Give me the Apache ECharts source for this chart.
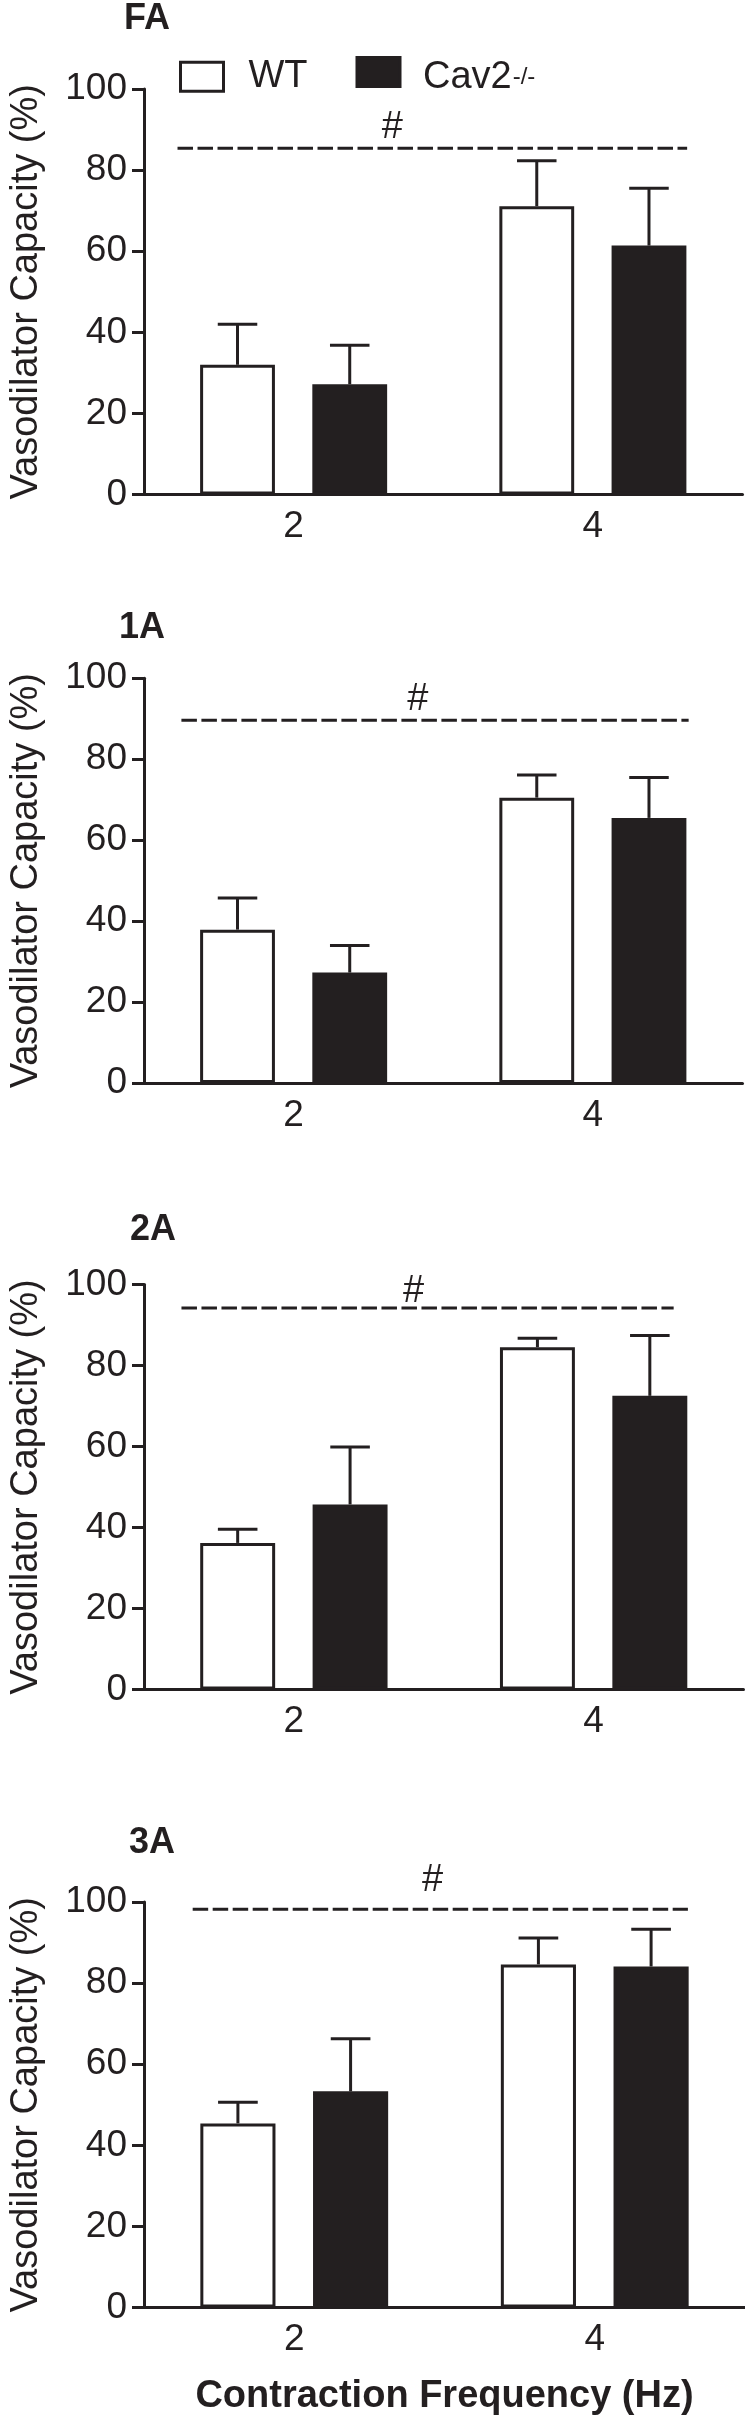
<!DOCTYPE html>
<html>
<head>
<meta charset="utf-8">
<script src="https://cdn.jsdelivr.net/npm/echarts@6/dist/echarts.min.js"></script>
<style>
html,body{margin:0;padding:0;background:#fff;}
#chart{width:745px;height:2417px;}
</style>
</head>
<body>
<div id="chart"></div>
<script>
// ---- data ----
const categories = ['2', '4'];
const panelNames = ['FA', '1A', '2A', '3A'];
const seriesNames = ['WT', 'Cav2-/-'];
const yTicks = [0, 20, 40, 60, 80, 100];

const wtMean  = [[32.0, 71.1], [37.9, 70.5], [36.2, 84.5], [45.4, 84.6]];
const wtSem   = [[10.0, 11.2], [7.8, 5.6], [3.4, 2.2], [5.2, 6.5]];
const cavMean = [[27.2, 61.4], [27.3, 65.5], [45.7, 72.5], [53.3, 84.1]];
const cavSem  = [[9.6, 14.1], [6.7, 10.0], [14.2, 14.9], [13.0, 9.2]];

// significance line (# : frequency effect), in category units (-0.5..1.5) and %
const sigLevel = [85.4, 89.6, 94.2, 98.2];
const sigStart = [-0.388, -0.375, -0.375, -0.338];
const sigEnd   = [1.315, 1.320, 1.267, 1.310];
const hashX    = [0.330, 0.415, 0.399, 0.460];
const hashY    = [90.5, 94.7, 98.2, 105.2];

// ---- layout ----
const INK = '#231f20';
const FONT = 'Liberation Sans, Arial, Helvetica, sans-serif';
const grids = [
  {left: 132.5, top: 89.0,   width: 610, height: 405.6},
  {left: 132.5, top: 678.2,  width: 610, height: 404.9},
  {left: 134.5, top: 1284.4, width: 609, height: 405.2},
  {left: 138.0, top: 1902.0, width: 608, height: 405.5}
];
const titlePos = [[124, 1], [119, 610.5], [130, 1212.5], [129, 1825.5]];

const option = {
  backgroundColor: '#fff',
  animation: false,
  title: panelNames.map((n, i) => ({
    text: n, left: titlePos[i][0], top: titlePos[i][1], padding: 0,
    textStyle: {fontFamily: FONT, fontWeight: 'bold', fontSize: 36, color: INK, lineHeight: 36}
  })),
  legend: [
    {
      data: [{name: seriesNames[0], icon: 'rect',
              itemStyle: {color: '#fff', borderColor: INK, borderWidth: 3}}],
      left: 179, top: 57.7, padding: 0, itemWidth: 43, itemHeight: 29,
      selectedMode: false,
      formatter: () => '{a|WT}',
      textStyle: {color: INK, rich: {a: {fontFamily: FONT, fontSize: 38, lineHeight: 38, color: INK, padding: [0, 0, 0, 20]}}}
    },
    {
      data: [{name: seriesNames[1], icon: 'rect',
              itemStyle: {color: INK, borderColor: INK, borderWidth: 3}}],
      left: 355.5, top: 47, padding: 0, itemWidth: 43, itemHeight: 29,
      selectedMode: false,
      formatter: () => '{a|Cav2}{s|-/-}',
      textStyle: {color: INK, rich: {
        a: {fontFamily: FONT, fontSize: 38, lineHeight: 38, color: INK, padding: [12, 0, 0, 18]},
        s: {fontFamily: FONT, fontSize: 24, lineHeight: 7, color: INK, verticalAlign: 'top', padding: [12, 0, 0, 1]}
      }}
    }
  ],
  grid: grids.map(g => Object.assign({containLabel: false}, g)),
  xAxis: [],
  yAxis: [],
  series: []
};

grids.forEach((g, i) => {
  option.xAxis.push({
    type: 'category', gridIndex: i, data: categories,
    axisLine: {onZero: false, lineStyle: {color: INK, width: 3}},
    axisTick: {alignWithLabel: true, length: 11, lineStyle: {color: INK, width: 3}},
    axisLabel: {fontFamily: FONT, fontSize: 37, color: INK, margin: 14},
    name: i === 3 ? 'Contraction Frequency (Hz)' : '',
    nameLocation: 'middle', nameGap: 70,
    nameTextStyle: {fontFamily: FONT, fontWeight: 'bold', fontSize: 38, color: INK}
  });
  option.xAxis.push({
    type: 'value', gridIndex: i, min: -0.5, max: 1.5, show: false
  });
  option.yAxis.push({
    type: 'value', gridIndex: i, min: 0, max: 100, interval: 20,
    axisLine: {show: true, onZero: false, lineStyle: {color: INK, width: 3}},
    axisTick: {show: true, length: 12, lineStyle: {color: INK, width: 3}},
    axisLabel: {fontFamily: FONT, fontSize: 37, color: INK, margin: 17},
    splitLine: {show: false},
    name: 'Vasodilator Capacity (%)', nameLocation: 'middle', nameGap: 98,
    nameTextStyle: {fontFamily: FONT, fontSize: 38, color: INK}
  });

  const catAxis = 2 * i, valAxis = 2 * i + 1;
  option.series.push({
    name: seriesNames[0], type: 'bar', xAxisIndex: catAxis, yAxisIndex: i,
    data: wtMean[i], barWidth: '25%', barGap: '50%',
    itemStyle: {color: '#fff', borderColor: INK, borderWidth: 3}, z: 2
  });
  option.series.push({
    name: seriesNames[1], type: 'bar', xAxisIndex: catAxis, yAxisIndex: i,
    data: cavMean[i], barWidth: '25%', barGap: '50%',
    itemStyle: {color: INK, borderColor: INK, borderWidth: 3}, z: 2
  });
  [[wtMean, wtSem, -1], [cavMean, cavSem, 1]].forEach(([m, s, side]) => {
    option.series.push({
      type: 'custom', xAxisIndex: catAxis, yAxisIndex: i, z: 3,
      data: m[i].map((v, k) => [k, v, v + s[i][k]]),
      renderItem: (params, api) => {
        const base = api.coord([api.value(0), api.value(1)]);
        const top = api.coord([api.value(0), api.value(2)]);
        const bw = api.size([1, 0])[0];
        const x = base[0] + side * 0.1875 * bw;
        const half = 0.066 * bw;
        const st = {stroke: INK, lineWidth: 3};
        return {type: 'group', children: [
          {type: 'line', shape: {x1: x, y1: base[1], x2: x, y2: top[1]}, style: st},
          {type: 'line', shape: {x1: x - half, y1: top[1], x2: x + half, y2: top[1]}, style: st}
        ]};
      }
    });
  });
  option.series.push({
    type: 'line', xAxisIndex: valAxis, yAxisIndex: i, symbol: 'none', z: 4,
    data: [[sigStart[i], sigLevel[i]], [sigEnd[i], sigLevel[i]]],
    lineStyle: {color: INK, width: 3, type: [15.5, 4.5]}
  });
  option.series.push({
    type: 'scatter', xAxisIndex: valAxis, yAxisIndex: i, symbolSize: 2, clip: false, z: 5,
    itemStyle: {color: '#fff', opacity: 1},
    data: [[hashX[i], hashY[i]]],
    label: {show: true, position: [1, 1], align: 'center', verticalAlign: 'middle',
            formatter: '#', fontFamily: FONT, fontSize: 38, color: INK,
            textBorderWidth: 0, opacity: 1}
  });
});

const chart = echarts.init(document.getElementById('chart'), null, {renderer: 'canvas'});
chart.setOption(option);
</script>
</body>
</html>
